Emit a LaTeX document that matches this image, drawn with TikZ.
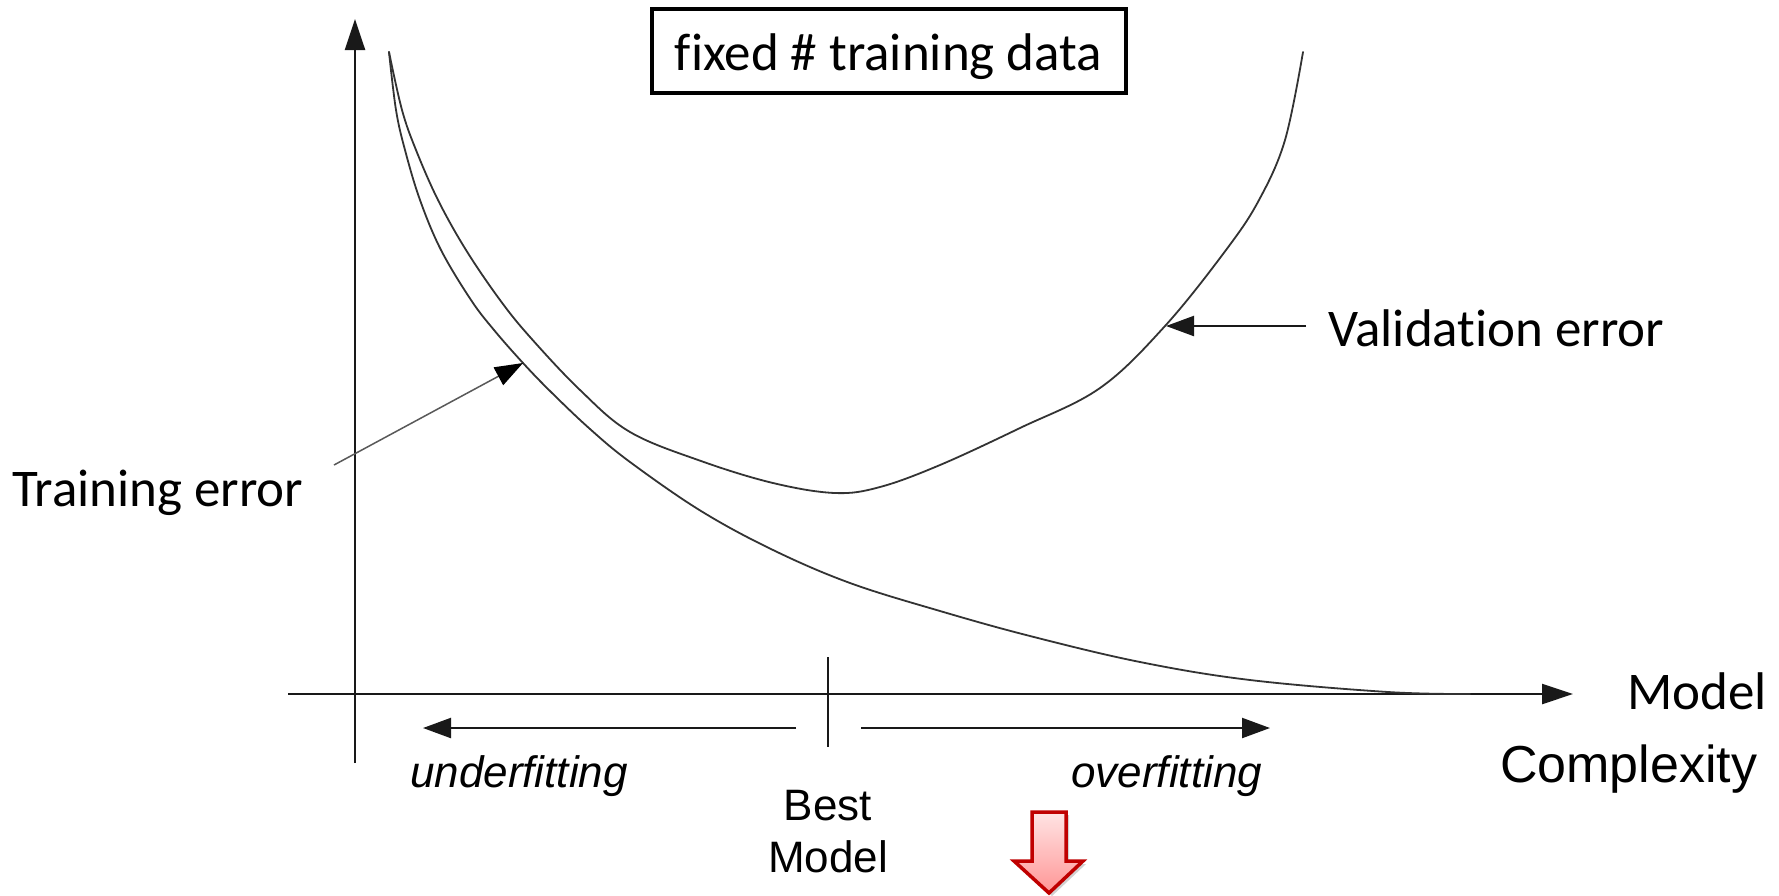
\documentclass[tikz,border=0pt]{standalone}
\usepackage{fontspec}
\setmainfont{Carlito}
\newfontfamily\calib[Ligatures=NoCommon]{Carlito}
\newfontfamily\helv{Liberation Sans}
\usetikzlibrary{arrows.meta}
\definecolor{arrowred}{RGB}{192,0,0}
\definecolor{pinktop}{RGB}{255,228,228}
\definecolor{pinkbot}{RGB}{255,150,150}
\tikzset{
  axisline/.style={line width=2.4pt, draw=black!90, -{Triangle[length=31pt,width=20pt]}},
  plainline/.style={line width=2.4pt, draw=black!90},
  curveline/.style={line width=1.8pt, draw=black!80, line cap=round, line join=round},
  labelarrow/.style={line width=2.2pt, draw=black!90, -{Triangle[length=28pt,width=20pt]}},
  thinarrow/.style={line width=1.5pt, draw=black!65, -{Triangle[length=28pt,width=20pt,color=black]}},
  callabel/.style={font=\calib\fontsize{53}{62}\selectfont, inner sep=0pt, anchor=base west},
  helvlabel/.style={font=\helv\fontsize{44}{52}\selectfont, inner sep=0pt},
  bigbox/.style={draw=black, line width=4pt, minimum width=474pt, minimum height=84pt, inner sep=0pt,
                 text height=42pt, text depth=4pt, font=\calib\fontsize{53}{62}\selectfont},
}
\begin{document}
\begin{tikzpicture}[x=1pt,y=-1pt]
\useasboundingbox[fill=white] (0,0) rectangle (1779,895);

% axes
\coordinate (ybot) at (355,763);
\coordinate (ytop) at (355,19);
\coordinate (xleft) at (288,694);
\coordinate (xright) at (1573,694);
\draw[axisline] (ybot) -- (ytop);
\draw[axisline] (xleft) -- (xright);

% best model tick
\coordinate (ticktop) at (828,657);
\coordinate (tickbot) at (828,747);
\draw[plainline] (ticktop) -- (tickbot);

% under / over arrows
\coordinate (underS) at (796,728);
\coordinate (underE) at (423,728);
\coordinate (overS) at (861,728);
\coordinate (overE) at (1270,728);
\draw[labelarrow] (underS) -- (underE);
\draw[labelarrow] (overS) -- (overE);

% training error curve
\draw[curveline] plot[smooth, tension=0.6] coordinates {
 (389,52) (396,110) (405,150) (420,200) (441,250) (471,300) (494,330) (523,363)
 (551,392) (590,429) (630,462) (701,511) (773,550) (850,583) (940,611)
 (1030,636) (1140,662) (1250,680) (1388,692) (1470,694)};

% validation error curve
\draw[curveline] plot[smooth, tension=0.6] coordinates {
 (389,52) (402,110) (416,150) (438,200) (466,250) (500,300) (530,337) (580,390)
 (630,432) (701,461) (773,483) (835,493) (880,487) (940,465) (1020,428)
 (1100,388) (1165,326) (1226,250) (1259,200) (1285,140) (1303,52)};

% label arrows
\coordinate (trainS) at (334,465);
\coordinate (trainE) at (523,363);
\draw[thinarrow] (trainS) -- (trainE);
\coordinate (valS) at (1306,326);
\coordinate (valE) at (1166,326);
\draw[labelarrow] (valS) -- (valE);

% labels
\node[callabel] (trainlab) at (12,506) {Training error};
\node[callabel] (vallab) at (1328,346) {Validation error};
\node[callabel] (modellab) at (1627,709) {Model};
\node[helvlabel, anchor=base west, font=\helv\fontsize{52}{62}\selectfont] (complab) at (1500,782) {Complexity};
\node[helvlabel, anchor=base west, font=\helv\itshape\fontsize{44}{52}\selectfont] (underlab) at (410,787) {underfitting};
\node[helvlabel, anchor=base west, font=\helv\itshape\fontsize{44}{52}\selectfont] (overlab) at (1071,787) {overfitting};
\node[helvlabel, anchor=base] (bestA) at (828,820) {Best};
\node[helvlabel, anchor=base] (bestB) at (828,872) {Model};

% title box
\node[bigbox] (title) at (888.5,51) {fixed \# training data};

% red down arrow
\fill[black, opacity=0.18] (1035,815) -- (1069,815) -- (1069,864) -- (1086,864) -- (1052,896) -- (1017,864) -- (1035,864) -- cycle;
\draw[draw=arrowred, line width=3.5pt, line join=miter, top color=pinktop, bottom color=pinkbot]
  (1032,812) -- (1066,812) -- (1066,861) -- (1083,861) -- (1049,893) -- (1014,861) -- (1032,861) -- cycle;
\end{tikzpicture}
\end{document}
